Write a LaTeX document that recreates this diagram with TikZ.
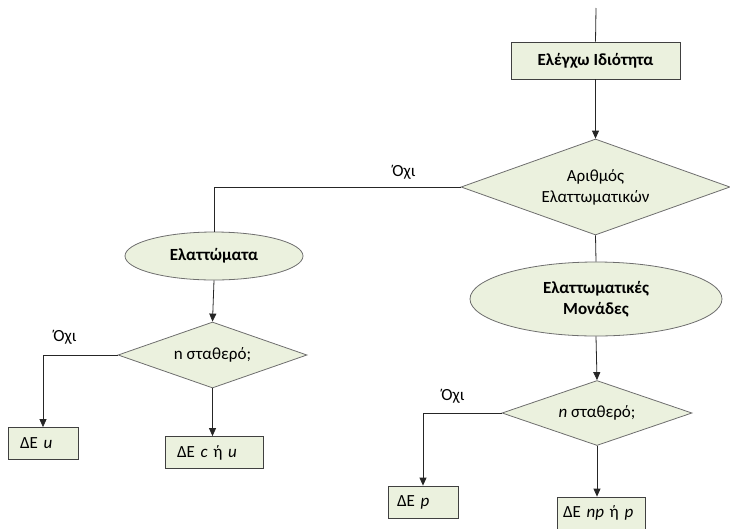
\documentclass[tikz,border=0pt]{standalone}
\usepackage{fontspec}
\setmainfont{Carlito}
\usepackage{tikz}
\usetikzlibrary{
  arrows.meta,
  positioning,
  shapes.geometric
}
\definecolor{boxfill}{HTML}{EBF1DE}
\definecolor{boxline}{HTML}{404040}
\definecolor{shapeline}{HTML}{6E6E6E}
\newcommand{\chartfont}{\fontsize{17}{21}\selectfont}
\tikzset{
  checkbox/.style={draw=boxline, fill=boxfill, thick,
    minimum width=169pt, minimum height=37pt,
    align=center, font=\chartfont\bfseries},
  resbox/.style={draw=boxline, fill=boxfill, thick,
    inner xsep=9pt, minimum height=32pt, align=left},
  decbox/.style={diamond, draw=shapeline, fill=boxfill, thick,
    aspect=2.9, inner sep=0pt, align=center},
  ellbox/.style={ellipse, draw=shapeline, fill=boxfill, thick,
    inner sep=0pt, align=center, font=\chartfont\bfseries},
  lbl/.style={inner sep=1pt},
  arr/.style={-{Triangle[length=8pt, width=7pt]}, thick, black!85},
  lne/.style={thick, black!85},
}

\begin{document}
\begin{tikzpicture}[x=1pt, y=-1pt, font=\chartfont]
  \useasboundingbox (0,0) rectangle (730,528);

  % right column
  \coordinate (top) at (596,8);
  \node[checkbox] (check) at (595.5,60.5) {Ελέγχω Ιδιότητα};
  \node[decbox, minimum width=269pt, minimum height=96pt]
    (numdef) at (595.5,187) {Αριθμός\\Ελαττωματικών};
  \node[ellbox, minimum width=252pt, minimum height=74pt]
    (units) at (596,299) {Ελαττωματικές\\Μονάδες};
  \node[decbox, minimum width=190pt, minimum height=65pt]
    (nconstR) at (597,413) {\textit{n} σταθερό;};
  \node[resbox, inner xsep=6pt, text width=76pt] (npbox) at (601,513)
    {ΔΕ \textit{np} ή \textit{p}};
  \node[resbox, text width=52pt] (pbox) at (423,502) {ΔΕ \textit{p}};

  % left column
  \node[ellbox, minimum width=178pt, minimum height=48pt]
    (defects) at (214,256) {Ελαττώματα};
  \node[decbox, minimum width=189pt, minimum height=66pt]
    (nconstL) at (212.5,355) {n σταθερό;};
  \node[resbox, inner xsep=12pt, text width=74pt] (cubox) at (214,452.5)
    {ΔΕ \textit{c} ή \textit{u}};
  \node[resbox, inner xsep=12pt, text width=46pt] (ubox) at (43,443.5)
    {ΔΕ \textit{u}};

  % labels
  \node[lbl] (noA) at (404,172) {Όχι};
  \node[lbl] (noB) at (453,396) {Όχι};
  \node[lbl] (noC) at (65,337) {Όχι};

  % connectors
  \draw[lne] (top) -- (check.north);
  \draw[arr] (check.south) -- (numdef.north);
  \draw[lne] (numdef.south) -- (units.north);
  \draw[lne] (numdef.west) -| (defects.north);
  \draw[arr] (units.south) -- (nconstR.north);
  \draw[arr] (nconstR.south) -- (npbox.north -| nconstR.south);
  \draw[arr] (nconstR.west) -| (pbox.north);
  \draw[arr] (defects.south) -- (nconstL.north);
  \draw[arr] (nconstL.south) -- (cubox.north -| nconstL.south);
  \draw[arr] (nconstL.west) -| (ubox.north);
\end{tikzpicture}
\end{document}
